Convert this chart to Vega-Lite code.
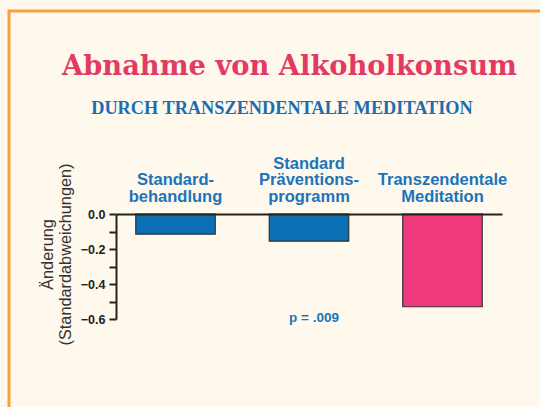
{
  "$schema": "https://vega.github.io/schema/vega-lite/v6.json",
  "autosize": {"type": "none"},
  "width": 531,
  "height": 396,
  "padding": {"left": 9, "top": 11, "right": 0, "bottom": 0},
  "background": "#fff8ec",
  "config": {
    "view": {"fill": null, "stroke": "#f8a03a", "strokeWidth": 3, "strokeDash": [531, 927, 396]},
    "font": "Liberation Sans"
  },
  "title": {
    "text": "Abnahme von Alkoholkonsum",
    "font": "DejaVu Serif",
    "fontWeight": "bold",
    "fontSize": 27.3,
    "color": "#e23b63",
    "anchor": "middle",
    "frame": "group",
    "dx": 15,
    "offset": -91,
    "baseline": "alphabetic"
  },
  "datasets": {
    "balken": [
      {"gruppe": "Standardbehandlung", "wert": -0.115},
      {"gruppe": "Standard Präventionsprogramm", "wert": -0.155},
      {"gruppe": "Transzendentale Meditation", "wert": -0.53}
    ],
    "notiz": [
      {"gruppe": "Standard Präventionsprogramm", "text": "p = .009"}
    ]
  },
  "encoding": {
    "x": {
      "field": "gruppe",
      "type": "nominal",
      "sort": null,
      "scale": {"range": [107, 493], "paddingInner": 0.4045, "paddingOuter": 0.148},
      "axis": {
        "orient": "top",
        "offset": -203,
        "zindex": 1,
        "title": "DURCH TRANSZENDENTALE MEDITATION",
        "titleFont": "Liberation Serif",
        "titleFontWeight": "bold",
        "titleFontSize": 18.3,
        "titleColor": "#1a6db2",
        "titleX": 272.5,
        "titleY": -100.5,
        "titleBaseline": "alphabetic",
        "titleAlign": "center",
        "titleAngle": 0,
        "domainColor": "#222222",
        "domainWidth": 2,
        "ticks": false,
        "tickSize": 0,
        "labelAngle": 0,
        "labelFont": "Liberation Sans",
        "labelFontWeight": "bold",
        "labelFontSize": 16.5,
        "labelLineHeight": 16.7,
        "labelColor": "#1a74bb",
        "labelBaseline": "alphabetic",
        "labelPadding": {"condition": {"test": "datum.value == 'Standard Präventionsprogramm'", "value": 45.9}, "value": 29.2},
        "labelAlign": "center",
        "labelExpr": "datum.value == 'Standardbehandlung' ? ['Standard-', 'behandlung'] : datum.value == 'Standard Präventionsprogramm' ? ['Standard', 'Präventions-', 'programm'] : ['Transzendentale', 'Meditation']"
      }
    }
  },
  "layer": [
    {
      "data": {"name": "balken"},
      "mark": {"type": "bar", "stroke": "#333333", "strokeWidth": 1.2},
      "encoding": {
        "y": {
          "field": "wert",
          "type": "quantitative",
          "scale": {"domain": [-0.6, 0], "range": [308, 203], "nice": false, "zero": false},
          "axis": {
            "offset": -107,
            "values": [0, -0.1, -0.2, -0.3, -0.4, -0.5, -0.6],
            "labelExpr": "round(abs(datum.value) * 10) % 2 == 0 ? format(datum.value, '.1f') : ''",
            "grid": false,
            "domainColor": "#222222",
            "domainWidth": 2,
            "tickColor": "#222222",
            "tickWidth": 2,
            "tickSize": 7,
            "labelFont": "Liberation Sans",
            "labelFontWeight": "bold",
            "labelFontSize": 12.5,
            "labelColor": "#222222",
            "labelPadding": 4,
            "title": ["Änderung", "(Standardabweichungen)"],
            "titleFont": "Liberation Sans",
            "titleFontWeight": "normal",
            "titleFontSize": 16.3,
            "titleLineHeight": 18,
            "titleColor": "#333333",
            "titleAngle": -90,
            "titleX": -69,
            "titleY": 243,
            "titleBaseline": "middle",
            "titleAlign": "center"
          }
        },
        "color": {
          "field": "gruppe",
          "type": "nominal",
          "sort": null,
          "scale": {"range": ["#0a6fb4", "#0a6fb4", "#ee3a7c"]},
          "legend": null
        }
      }
    },
    {
      "data": {"name": "notiz"},
      "mark": {"type": "text", "font": "Liberation Sans", "fontWeight": "bold", "fontSize": 13.5, "color": "#1a74bb", "baseline": "alphabetic", "align": "center", "dx": 5},
      "encoding": {
        "y": {"datum": -0.615, "type": "quantitative"},
        "text": {"field": "text"}
      }
    }
  ]
}
